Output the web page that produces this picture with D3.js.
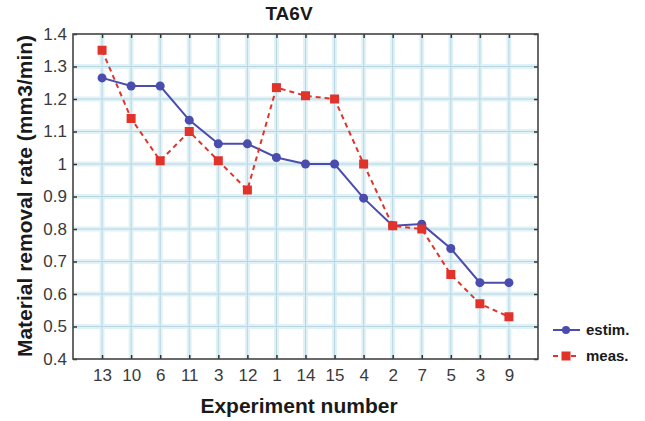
<!DOCTYPE html>
<html>
<head>
<meta charset="utf-8">
<style>
body { margin: 0; background: #fff; }
svg { font-family: "Liberation Sans", Arial, sans-serif; }
</style>
</head>
<body>
<div id="chart"></div>
<script src="https://cdn.jsdelivr.net/npm/d3@7"></script>
<script>
// experiment order along the x axis
var experiments = ['13', '10', '6', '11', '3', '12', '1', '14', '15', '4', '2', '7', '5', '3', '9'];
var estim = [1.265, 1.24, 1.24, 1.135, 1.062, 1.062, 1.02, 1.0, 1.0, 0.895, 0.81, 0.815, 0.74, 0.635, 0.635];
var meas = [1.35, 1.14, 1.01, 1.10, 1.01, 0.92, 1.235, 1.21, 1.20, 1.0, 0.81, 0.80, 0.66, 0.57, 0.53];
var yTicks = [0.4, 0.5, 0.6, 0.7, 0.8, 0.9, 1, 1.1, 1.2, 1.3, 1.4];

var W = 645, H = 421;
var m = {left: 73, right: 107, top: 34, bottom: 62};

var svg = d3.select('#chart').append('svg')
    .attr('width', W).attr('height', H);

var x = d3.scaleLinear().domain([0, experiments.length + 1]).range([m.left, W - m.right]);
var y = d3.scaleLinear().domain([0.4, 1.4]).range([H - m.bottom, m.top]);
var idx = d3.range(experiments.length);

var g = svg.append('g');

// grid: soft cyan halo + thin grey line
function grid(cls, color, width) {
    g.selectAll('.v' + cls).data(idx).enter().append('line')
        .attr('x1', d => x(d + 1)).attr('x2', d => x(d + 1))
        .attr('y1', y(0.4)).attr('y2', y(1.4))
        .attr('stroke', color).attr('stroke-width', width);
    g.selectAll('.h' + cls).data(yTicks.slice(1, -1)).enter().append('line')
        .attr('x1', x(0)).attr('x2', x(experiments.length + 1))
        .attr('y1', d => y(d)).attr('y2', d => y(d))
        .attr('stroke', color).attr('stroke-width', width);
}
grid('a', '#e0f2f8', 5);
grid('b', '#b8d6e0', 1);

// axes
var xAxis = d3.axisBottom(x).tickValues(idx.map(d => d + 1))
    .tickFormat(d => experiments[d - 1]).tickSize(-4).tickPadding(10);
var yAxis = d3.axisLeft(y).tickValues(yTicks)
    .tickFormat(d3.format('~g')).tickSize(-4).tickPadding(6);

var ax = svg.append('g').attr('transform', 'translate(0,' + y(0.4) + ')').call(xAxis);
var ay = svg.append('g').attr('transform', 'translate(' + x(0) + ',0)').call(yAxis);
svg.append('g').attr('transform', 'translate(0,' + y(1.4) + ')')
    .call(d3.axisTop(x).tickValues(idx.map(d => d + 1)).tickFormat('').tickSize(-4));
svg.append('g').attr('transform', 'translate(' + x(experiments.length + 1) + ',0)')
    .call(d3.axisRight(y).tickValues(yTicks).tickFormat('').tickSize(-4));

svg.selectAll('.domain').remove();
svg.selectAll('.tick line').attr('stroke', '#333').attr('stroke-width', 1.5);
[ax, ay].forEach(a => a.selectAll('text')
    .attr('font-size', 17).attr('fill', '#3a3a3a')
    .attr('font-family', '"Liberation Sans", Arial, sans-serif'));

svg.append('rect')
    .attr('x', x(0)).attr('y', y(1.4))
    .attr('width', x(experiments.length + 1) - x(0))
    .attr('height', y(0.4) - y(1.4))
    .attr('fill', 'none').attr('stroke', '#444').attr('stroke-width', 1.6);

// series
var line = d3.line().x((d, i) => x(i + 1)).y(d => y(d));
var blue = '#4a4cae', red = '#e2332b';

svg.append('path').datum(estim).attr('d', line)
    .attr('fill', 'none').attr('stroke', blue).attr('stroke-width', 2);
svg.append('path').datum(meas).attr('d', line)
    .attr('fill', 'none').attr('stroke', red).attr('stroke-width', 2)
    .attr('stroke-dasharray', '5,4');

svg.selectAll('.pe').data(estim).enter().append('circle')
    .attr('cx', (d, i) => x(i + 1)).attr('cy', d => y(d))
    .attr('r', 4.5).attr('fill', blue);
svg.selectAll('.pm').data(meas).enter().append('rect')
    .attr('x', (d, i) => x(i + 1) - 4.5).attr('y', d => y(d) - 4.5)
    .attr('width', 9).attr('height', 9).attr('fill', red);

// title + labels
svg.append('text').attr('x', 289).attr('y', 20).attr('text-anchor', 'middle')
    .attr('font-size', 19).attr('font-weight', 'bold').attr('fill', '#1a1a1a').text('TA6V');
svg.append('text').attr('x', 299).attr('y', 413).attr('text-anchor', 'middle')
    .attr('font-size', 21).attr('font-weight', 'bold').attr('fill', '#1a1a1a').text('Experiment number');
svg.append('text').attr('transform', 'translate(32,196) rotate(-90)')
    .attr('text-anchor', 'middle')
    .attr('font-size', 21).attr('font-weight', 'bold').attr('fill', '#1a1a1a')
    .text('Material removal rate (mm3/min)');

// legend
var legend = [
    {name: 'estim.', color: blue, dash: null, mark: 'circle', yy: 330},
    {name: 'meas.', color: red, dash: '5,4', mark: 'rect', yy: 356}
];
legend.forEach(function (l) {
    svg.append('line').attr('x1', 553).attr('x2', 580).attr('y1', l.yy).attr('y2', l.yy)
        .attr('stroke', l.color).attr('stroke-width', 2).attr('stroke-dasharray', l.dash);
    if (l.mark === 'circle') {
        svg.append('circle').attr('cx', 566).attr('cy', l.yy).attr('r', 4).attr('fill', l.color);
    } else {
        svg.append('rect').attr('x', 561.5).attr('y', l.yy - 4.5).attr('width', 9).attr('height', 9).attr('fill', l.color);
    }
    svg.append('text').attr('x', 586).attr('y', l.yy + 5)
        .attr('font-size', 15).attr('font-weight', 'bold').attr('fill', '#1a1a1a').text(l.name);
});
</script>
</body>
</html>
